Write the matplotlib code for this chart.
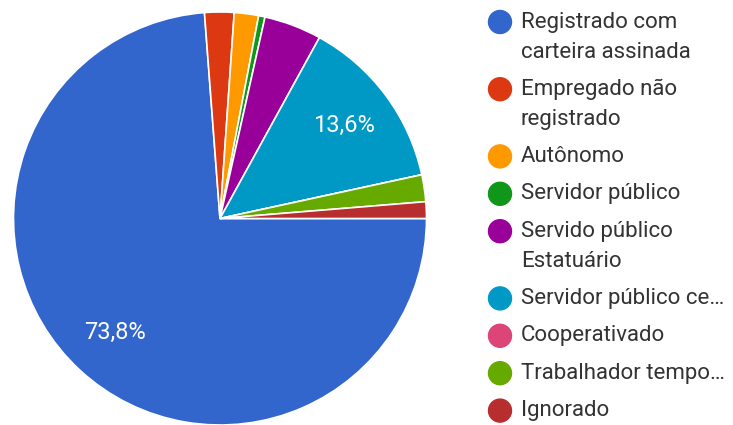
import matplotlib.pyplot as plt
from matplotlib.patches import Circle

plt.rcParams['font.family'] = ['Roboto', 'DejaVu Sans']

# situação de trabalho (%)
labels = [
    'Registrado com\ncarteira assinada',
    'Empregado não\nregistrado',
    'Autônomo',
    'Servidor público',
    'Servido público\nEstatuário',
    'Servidor público ce…',
    'Cooperativado',
    'Trabalhador tempo…',
    'Ignorado',
]
values = [73.8, 2.3, 1.9, 0.5, 4.5, 13.6, 0.0, 2.1, 1.3]
colors = ['#3366cc', '#dc3912', '#ff9900', '#109618', '#990099',
          '#0099c6', '#dd4477', '#66aa00', '#b82e2e']

W, H = 733, 425
fig = plt.figure(figsize=(W / 100, H / 100), dpi=100)

# pie area in pixels: centre (220, 218.5), radius 206.5
cx, cy, r = 220, 218.5, 206.5
ax = fig.add_axes([(cx - r) / W, (H - cy - r) / H, 2 * r / W, 2 * r / H])


def fmt(p):
    return f'{p:.1f}%'.replace('.', ',') if p > 5 else ''


wedges, _, autotexts = ax.pie(
    values, colors=colors, startangle=0, counterclock=False,
    autopct=fmt, pctdistance=0.75, radius=1,
    wedgeprops=dict(edgecolor='white', linewidth=1.2),
    textprops=dict(color='white', fontsize=17),
)
ax.set_xlim(-1, 1)
ax.set_ylim(-1, 1)
ax.set_aspect('equal')

# legend drawn in pixel coordinates
lg = fig.add_axes([0, 0, 1, 1])
lg.set_xlim(0, W)
lg.set_ylim(H, 0)
lg.axis('off')
lg.patch.set_alpha(0)

y = 22
for lab, col in zip(labels, colors):
    lg.add_patch(Circle((500, y), 11.5, color=col))
    lines = lab.split('\n')
    for i, line in enumerate(lines):
        lg.text(521, y + i * 30, line, fontsize=16, color='#333333',
                va='center', ha='left')
    y += 37.4 + 29.8 * (len(lines) - 1)

fig.savefig('out.png', dpi=100)
